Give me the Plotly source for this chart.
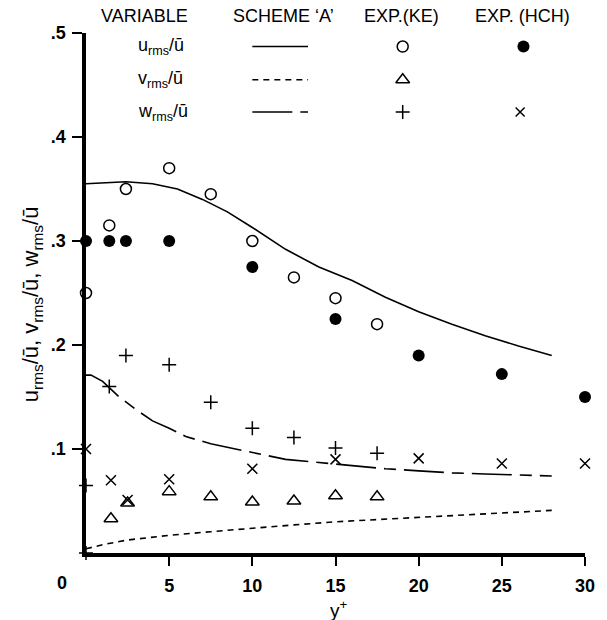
import plotly.graph_objects as go

# ---- data ----
u_ke_x = [0, 1.4, 2.4, 5, 7.5, 10, 12.5, 15, 17.5]
u_ke_y = [0.25, 0.315, 0.35, 0.37, 0.345, 0.30, 0.265, 0.245, 0.22]

u_hch_x = [0, 1.4, 2.4, 5, 10, 15, 20, 25, 30]
u_hch_y = [0.30, 0.30, 0.30, 0.30, 0.275, 0.225, 0.19, 0.172, 0.15]

v_ke_x = [1.5, 2.5, 5, 7.5, 10, 12.5, 15, 17.5]
v_ke_y = [0.033, 0.048, 0.059, 0.054, 0.049, 0.050, 0.055, 0.054]

w_ke_x = [0, 0, 1.4, 2.4, 5, 7.5, 10, 12.5, 15, 17.5]
w_ke_y = [0.0, 0.065, 0.160, 0.190, 0.181, 0.145, 0.120, 0.111, 0.101, 0.096]

w_hch_x = [0, 1.5, 2.5, 5, 10, 15, 20, 25, 30]
w_hch_y = [0.10, 0.070, 0.051, 0.071, 0.081, 0.090, 0.091, 0.086, 0.086]

u_a_x = [0, 1, 2.4, 4, 5.5, 7, 8.5, 10, 12, 14, 16, 18, 20, 22, 24, 26, 28]
u_a_y = [0.355, 0.356, 0.357, 0.355, 0.350, 0.340, 0.328, 0.313, 0.292, 0.275,
         0.262, 0.246, 0.232, 0.220, 0.209, 0.199, 0.190]

v_a_x = [0, 1, 2.5, 5, 7.5, 10, 12.5, 15, 17.5, 20, 22.5, 25, 28]
v_a_y = [0.004, 0.008, 0.0125, 0.017, 0.0205, 0.024, 0.027, 0.030, 0.032,
         0.034, 0.036, 0.038, 0.041]

w_a_x = [0, 0.3, 1, 2, 3, 4, 5, 6, 7.5, 10, 12, 14, 16, 18, 20, 22, 24, 26, 28]
w_a_y = [0.171, 0.171, 0.165, 0.150, 0.138, 0.127, 0.120, 0.112, 0.105, 0.097,
         0.090, 0.087, 0.084, 0.081, 0.079, 0.077, 0.076, 0.075, 0.074]

x_tick_vals = [5, 10, 15, 20, 25, 30]
x_tick_text = ["5", "10", "15", "20", "25", "30"]
y_tick_vals = [0.1, 0.2, 0.3, 0.4, 0.5]
y_tick_text = [".1", ".2", ".3", ".4", ".5"]

headers = ["VARIABLE", "SCHEME \u2018A\u2019", "EXP.(KE)", "EXP. (HCH)"]
var_labels = ["u<sub>rms</sub>/\u016b", "v<sub>rms</sub>/\u016b", "w<sub>rms</sub>/\u016b"]
x_title = "y<sup>+</sup>"
y_title = "u<sub>rms</sub>/\u016b, v<sub>rms</sub>/\u016b, w<sub>rms</sub>/\u016b"

X_RANGE = [0, 30]
Y_RANGE = [0, 0.5]
FONT = "Liberation Sans, Arial, sans-serif"
BLACK = "black"
U_DASH = "solid"
V_DASH = "6px,5px"
W_DASH = "40px,8px,12px,8px"

def px(x):  # data x -> paper x
    return (x - X_RANGE[0]) / (X_RANGE[1] - X_RANGE[0])

def py(y):  # data y -> paper y
    return (y - Y_RANGE[0]) / (Y_RANGE[1] - Y_RANGE[0])

fig = go.Figure()

def line(x, y, dash):
    fig.add_trace(go.Scatter(x=x, y=y, mode="lines",
                             line=dict(color=BLACK, width=1.6, dash=dash),
                             cliponaxis=False, showlegend=False, hoverinfo="skip"))

def pts(x, y, symbol, size, lw=1.5):
    fig.add_trace(go.Scatter(x=x, y=y, mode="markers",
                             marker=dict(symbol=symbol, size=size, color=BLACK,
                                         line=dict(color=BLACK, width=lw)),
                             cliponaxis=False, showlegend=False, hoverinfo="skip"))

line(u_a_x, u_a_y, U_DASH)
line(v_a_x, v_a_y, V_DASH)
line(w_a_x, w_a_y, W_DASH)

pts(u_ke_x, u_ke_y, "circle-open", 11)
pts(u_hch_x, u_hch_y, "circle", 12, 0)
pts(v_ke_x, v_ke_y, "triangle-up-open", 12)
pts(w_ke_x, w_ke_y, "cross-thin-open", 10)
pts(w_hch_x, w_hch_y, "x-thin-open", 10)

# ---- legend table (positions in data units) ----
row_y = [0.487, 0.455, 0.424]
hdr_y = 0.516
hdr_x = [3.5, 11.9, 18.98, 26.25]
var_x = 3.0
line_x0, line_x1 = 10.0, 13.35
ke_x = 19.04
hch_x = 26.3

for hx, h in zip(hdr_x, headers):
    fig.add_annotation(x=px(hx), y=py(hdr_y), xref="paper", yref="paper", text=h,
                       showarrow=False, xanchor="center", yanchor="middle",
                       font=dict(family=FONT, size=18, color=BLACK))
for ry, lab in zip(row_y, var_labels):
    fig.add_annotation(x=px(var_x), y=py(ry), xref="paper", yref="paper", text=lab,
                       showarrow=False, xanchor="left", yanchor="middle",
                       font=dict(family=FONT, size=18, color=BLACK))
for ry, d in zip(row_y, [U_DASH, V_DASH, W_DASH]):
    fig.add_shape(type="line", x0=line_x0, x1=line_x1, y0=ry, y1=ry,
                  line=dict(color=BLACK, width=1.6, dash=d))

pts([ke_x], [row_y[0]], "circle-open", 11)
pts([hch_x], [row_y[0]], "circle", 12, 0)
pts([ke_x], [row_y[1]], "triangle-up-open", 12)
pts([ke_x], [row_y[2]], "cross-thin-open", 10)
pts([hch_x - 0.2], [row_y[2]], "x-thin-open", 9)

# origin label and axis titles
fig.add_annotation(x=px(-1.43), y=py(-0.029), xref="paper", yref="paper", text="0",
                   showarrow=False, xanchor="center", yanchor="middle",
                   font=dict(family=FONT, size=18, color=BLACK, weight="bold"))
fig.add_annotation(x=px(15.2), y=py(-0.054), xref="paper", yref="paper", text=x_title,
                   showarrow=False, xanchor="center", yanchor="middle",
                   font=dict(family=FONT, size=19, color=BLACK))
fig.add_annotation(x=px(-3.2), y=py(0.239), xref="paper", yref="paper", text=y_title,
                   showarrow=False, textangle=-90, xanchor="center", yanchor="middle",
                   font=dict(family=FONT, size=22, color=BLACK))

# y-axis stub below the x-axis
fig.add_shape(type="line", x0=0, x1=0, y0=0, y1=-0.009,
              line=dict(color=BLACK, width=3.5))

fig.update_layout(
    width=607, height=620,
    margin=dict(l=86, r=14, t=33, b=67),
    paper_bgcolor="white", plot_bgcolor="white",
    font=dict(family=FONT, color=BLACK),
    xaxis=dict(range=X_RANGE, showgrid=False, zeroline=False,
               showline=True, linecolor=BLACK, linewidth=3.5,
               ticks="outside", ticklen=9, tickwidth=1.5, tickcolor=BLACK,
               tickvals=x_tick_vals, ticktext=x_tick_text, ticklabelstandoff=5,
               tickfont=dict(family=FONT, size=18, color=BLACK, weight="bold")),
    yaxis=dict(range=Y_RANGE, showgrid=False, zeroline=False,
               showline=True, linecolor=BLACK, linewidth=3.5,
               ticks="outside", ticklen=10, tickwidth=1.5, tickcolor=BLACK,
               tickvals=y_tick_vals, ticktext=y_tick_text, ticklabelstandoff=3,
               tickfont=dict(family=FONT, size=18, color=BLACK, weight="bold")),
)

fig.write_html("out.html")
